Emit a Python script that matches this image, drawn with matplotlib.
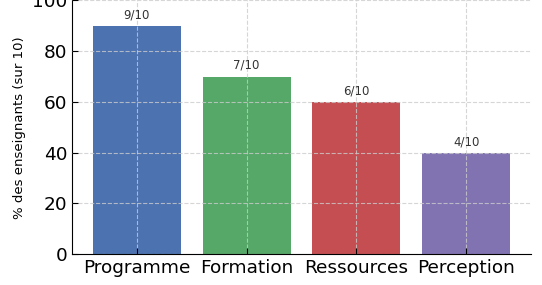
import matplotlib
matplotlib.use("Agg")
import matplotlib.pyplot as plt

categories = ["Programme", "Formation", "Ressources", "Perception"]
values = [90, 70, 60, 40]
labels = ["9/10", "7/10", "6/10", "4/10"]
colors = ["#4C72B0", "#55A868", "#C44E52", "#8172B2"]

fig = plt.figure(figsize=(5.42, 2.85), dpi=100)
ax = fig.add_axes([0.1328, 0.1088, 0.8469, 0.8895])
bars = ax.bar(categories, values, color=colors, width=0.8)
for b, lab in zip(bars, labels):
    ax.text(b.get_x() + b.get_width() / 2, b.get_height() + 1.8, lab,
            ha="center", va="bottom", fontsize=8.5, color="#333333")
ax.set_ylim(0, 100)
ax.set_yticks([0, 20, 40, 60, 80, 100])
ax.set_ylabel("% des enseignants (sur 10)", fontsize=9.5)
ax.tick_params(axis="both", labelsize=13.3, direction="in", length=4)
ax.grid(True, linestyle="--", color="#cccccc", linewidth=0.8, alpha=0.8)
ax.set_axisbelow(False)
for s in ["top", "right"]:
    ax.spines[s].set_visible(False)
fig.savefig("out.png", dpi=100)
